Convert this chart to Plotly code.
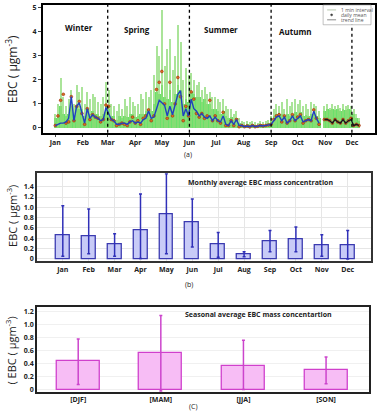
import pandas as pd
import plotly.graph_objects as go

# ---------------- data ----------------
# panel (a): samples every 3 days starting 1 Jan
start_date = "2017-01-01"
step_days = 3
green_peak = [0.6,1.0,2.1,1.3,0.9,1.2,1.6,1.0,1.8,1.5,1.7,1.0,1.5,1.2,1.4,1.3,1.1,1.0,1.3,1.9,
              1.6,1.0,0.9,0.7,1.0,0.8,1.2,0.9,1.3,1.1,0.9,1.0,1.4,1.2,1.5,1.3,1.6,2.2,3.4,3.0,
              4.9,2.6,3.3,3.7,2.4,3.0,4.3,3.6,2.0,2.5,2.2,2.3,2.0,1.8,1.9,1.6,1.7,1.4,1.5,1.3,
              1.3,1.2,1.1,1.2,0.9,0.8,0.8,0.6,0.7,0.4,0.3,0.25,0.3,0.25,0.3,0.25,0.2,0.3,0.25,0.3,
              0.35,0.5,0.8,1.0,0.9,1.1,0.8,1.2,0.9,1.1,1.2,1.0,1.15,0.9,1.0,0.8,1.1,1.0,0.9,0.7,
              None,0.9,1.0,0.85,1.0,0.9,0.95,0.85,1.0,0.9,0.95,0.9,0.8,0.6,0.4]
green_bulk = [0.4,0.5,0.9,0.6,0.5,0.6,0.9,0.5,0.9,0.8,0.8,0.5,0.8,0.6,0.7,0.6,0.6,0.5,0.6,0.9,
              0.8,0.5,0.5,0.35,0.5,0.4,0.5,0.45,0.6,0.6,0.45,0.5,0.6,0.6,0.7,0.8,0.7,1.0,1.5,1.4,
              1.8,1.3,1.2,1.6,1.1,1.4,1.8,1.6,1.0,1.2,1.1,1.5,1.4,1.3,1.3,1.1,1.2,1.0,1.0,0.8,
              0.8,0.7,0.6,0.7,0.5,0.4,0.45,0.35,0.4,0.2,0.15,0.12,0.15,0.12,0.15,0.12,0.1,0.15,0.12,0.15,
              0.2,0.3,0.5,0.6,0.6,0.6,0.5,0.6,0.5,0.6,0.65,0.55,0.65,0.5,0.55,0.5,0.6,0.6,0.5,0.4,
              None,0.7,0.8,0.75,0.8,0.75,0.8,0.7,0.8,0.75,0.8,0.75,0.6,0.4,0.3]
daily_mean = [0.1,0.5,1.15,1.4,0.2,0.25,1.3,0.3,0.9,1.1,0.6,0.15,0.8,0.35,0.55,0.45,0.4,0.25,0.35,0.95,
              0.9,0.35,0.3,0.1,0.15,0.2,0.15,0.1,0.25,0.45,0.2,0.3,0.15,0.4,0.5,0.75,0.3,0.5,1.6,1.9,
              2.35,1.0,0.4,1.9,0.5,1.0,2.1,1.3,0.3,0.9,0.5,1.5,1.2,0.6,0.45,0.6,0.4,0.5,1.15,0.3,
              0.5,0.3,0.2,0.65,0.1,0.1,0.3,0.1,0.35,0.05,0.1,0.05,0.08,0.04,0.1,0.05,0.07,0.1,0.08,0.1,
              0.12,0.15,0.35,0.5,0.55,0.25,0.5,0.2,0.3,0.55,0.3,0.45,0.55,0.2,0.3,0.35,0.3,0.75,0.4,0.15,
              None,0.35,0.35,0.3,0.2,0.35,0.25,0.2,0.35,0.2,0.3,0.4,0.1,0.15,0.1]
trend = [0.1,0.15,0.2,0.2,0.25,0.4,1.3,0.3,0.9,1.05,0.6,0.2,0.8,0.4,0.55,0.45,0.4,0.3,0.35,0.85,
         0.6,0.35,0.3,0.15,0.15,0.2,0.2,0.15,0.25,0.3,0.2,0.25,0.2,0.35,0.4,0.7,0.4,0.45,0.8,1.15,
         1.05,0.95,0.5,0.9,0.55,1.0,1.4,1.55,0.5,0.8,0.5,1.2,0.8,0.7,0.5,0.6,0.45,0.4,0.5,0.3,
         0.45,0.3,0.25,0.5,0.15,0.1,0.3,0.15,0.35,0.1,0.1,0.05,0.08,0.05,0.1,0.05,0.08,0.1,0.08,0.1,
         0.12,0.15,0.3,0.45,0.5,0.3,0.45,0.2,0.3,0.5,0.3,0.4,0.5,0.25,0.3,0.35,0.3,0.7,0.4,0.2,
         None,0.35,0.35,0.3,0.2,0.35,0.25,0.2,0.35,0.2,0.3,0.35,0.1,0.15,0.1]
trend_split = 100  # trend drawn black after this sample
season_bounds = ["2017-03-01", "2017-06-01", "2017-09-01", "2017-12-01"]
season_names = ["Winter", "Spring", "Summer", "Autumn"]
season_label_dates = ["2017-01-28", "2017-04-03", "2017-07-07", "2017-09-28"]
season_label_y = [4.2, 4.1, 4.1, 4.0]
month_ticks = pd.date_range("2017-01-01", periods=12, freq="MS")
month_labels = ["Jan","Feb","Mar","Apr","May","Jun","Jul","Aug","Sep","Oct","Nov","Dec"]
legend_labels = ["1 min interval", "daily mean", "trend line"]

# panel (b): monthly averages
months = month_labels
monthly_mean = [0.46,0.44,0.28,0.55,0.87,0.70,0.28,0.09,0.34,0.38,0.27,0.27]
monthly_hi   = [1.03,0.97,0.49,1.26,1.65,1.16,0.51,0.14,0.55,0.62,0.47,0.55]
monthly_lo   = [0.05,0.10,0.05,0.01,0.10,0.23,0.03,0.04,0.14,0.14,0.05,0.00]

# panel (c): seasonal averages
seasons = ["[DJF]", "[MAM]", "[JJA]", "[SON]"]
seasonal_mean = [0.44,0.56,0.37,0.30]
seasonal_hi   = [0.78,1.14,0.76,0.50]
seasonal_lo   = [0.08,-0.02,0.00,0.09]

# ---------------- figure ----------------
dates = pd.date_range(start_date, periods=len(green_peak), freq=f"{step_days}D")
day_ms = 86400000
FONT = "Open Sans"

fig = go.Figure()

# panel a
fig.add_trace(go.Bar(x=dates, y=green_bulk, width=3.0 * day_ms,
                     marker=dict(color="#3ad83a", line=dict(width=0)), opacity=0.75,
                     showlegend=False, xaxis="x", yaxis="y"))
fig.add_trace(go.Bar(x=dates, y=green_peak, width=1.4 * day_ms,
                     marker=dict(color="#8edc78", line=dict(width=0)), opacity=0.75,
                     showlegend=False, xaxis="x", yaxis="y"))
fig.add_trace(go.Scatter(x=dates, y=daily_mean, mode="markers",
                         marker=dict(color="#d9701c", size=2.8, line=dict(color="#9a2a10", width=0.6)),
                         showlegend=False, xaxis="x", yaxis="y"))
fig.add_trace(go.Scatter(x=dates[:trend_split], y=trend[:trend_split], mode="lines",
                         line=dict(color="#2040c0", width=1.4), connectgaps=False,
                         showlegend=False, xaxis="x", yaxis="y"))
fig.add_trace(go.Scatter(x=dates[trend_split:], y=trend[trend_split:], mode="lines",
                         line=dict(color="#151520", width=1.3), showlegend=False,
                         xaxis="x", yaxis="y"))

# panel b
fig.add_trace(go.Bar(x=months, y=monthly_mean, width=0.54,
                     marker=dict(color="#c8cbf7", line=dict(color="#3a3ab0", width=1.3)),
                     error_y=dict(type="data", symmetric=False,
                                  array=[h - m for h, m in zip(monthly_hi, monthly_mean)],
                                  arrayminus=[m - l for m, l in zip(monthly_mean, monthly_lo)],
                                  color="#3030b8", thickness=1.5, width=1.5),
                     showlegend=False, xaxis="x2", yaxis="y2"))

# panel c
fig.add_trace(go.Bar(x=seasons, y=seasonal_mean, width=0.52,
                     marker=dict(color="#f7bdf5", line=dict(color="#d040cc", width=1.3)),
                     error_y=dict(type="data", symmetric=False,
                                  array=[h - m for h, m in zip(seasonal_hi, seasonal_mean)],
                                  arrayminus=[m - l for m, l in zip(seasonal_mean, seasonal_lo)],
                                  color="#cc44cc", thickness=1.5, width=1.5),
                     showlegend=False, xaxis="x3", yaxis="y3"))

W, H = 377, 414
def px_x(p): return p / W
def px_y(p): return 1 - p / H

tickf = dict(family=FONT, size=7, color="#222", weight="bold")

fig.update_layout(
    width=W, height=H, margin=dict(l=0, r=0, t=0, b=0),
    paper_bgcolor="white", plot_bgcolor="white", barmode="overlay", bargap=0,
    font=dict(family=FONT, color="#222"),
    showlegend=False,
    xaxis=dict(domain=[px_x(43), px_x(376)], anchor="y", type="date",
               range=["2016-12-18", "2017-12-27"],
               tickvals=list(month_ticks), ticktext=month_labels, tickfont=tickf,
               ticks="outside", ticklen=2, showgrid=False, zeroline=False,
               showline=True, linecolor="black", linewidth=2, mirror=True),
    yaxis=dict(domain=[px_y(132), px_y(3)], anchor="x", range=[-0.2, 5.12],
               tickvals=[0, 1, 2, 3, 4, 5], ticktext=["0", "1", "2", "3", "4", "5"],
               tickfont=tickf, ticks="outside", ticklen=3, showgrid=False, zeroline=False,
               showline=True, linecolor="black", linewidth=2, mirror=True),
    xaxis2=dict(domain=[px_x(37), px_x(372)], anchor="y2", type="category",
                range=[-1.0, 11.9], tickfont=tickf, showgrid=True, gridcolor="#e6e6e6",
                gridwidth=1, ticks="", showline=True, linecolor="#333", linewidth=1.5, mirror=True),
    yaxis2=dict(domain=[px_y(262), px_y(173)], anchor="x2", range=[-0.05, 1.66],
                tickvals=[0, 0.2, 0.4, 0.6, 0.8, 1.0, 1.2, 1.4],
                ticktext=["0", "0.2", "0.4", "0.6", "0.8", "1.0", "1.2", "1.4"],
                tickfont=tickf, showgrid=True, gridcolor="#e6e6e6", zeroline=False,
                showline=True, linecolor="#333", linewidth=1.5, mirror=True),
    xaxis3=dict(domain=[px_x(37), px_x(370)], anchor="y3", type="category",
                range=[-0.5, 3.52], tickfont=tickf, showgrid=False, ticks="",
                showline=True, linecolor="#222", linewidth=1.5, mirror=True),
    yaxis3=dict(domain=[px_y(394), px_y(308)], anchor="x3", range=[-0.04, 1.27],
                tickvals=[0, 0.2, 0.4, 0.6, 0.8, 1.0, 1.2],
                ticktext=["0", "0.2", "0.4", "0.6", "0.8", "1.0", "1.2"],
                tickfont=tickf, showgrid=True, gridcolor="#f0f0f0", zeroline=False,
                showline=True, linecolor="#222", linewidth=1.5, mirror=True),
)

# season boundaries
for b in season_bounds:
    fig.add_shape(type="line", xref="x", yref="paper", x0=b, x1=b,
                  y0=px_y(132), y1=px_y(3), line=dict(color="black", width=1.3, dash="dot"))
for name, d, yv in zip(season_names, season_label_dates, season_label_y):
    fig.add_annotation(x=d, y=yv, xref="x", yref="y", text=name, showarrow=False,
                       xanchor="center", yanchor="middle",
                       font=dict(size=8, family=FONT, color="#111", weight="bold"))


def paper_text(x, y, text, font, xanchor="center", angle=0):
    fig.add_annotation(x=px_x(x), y=px_y(y), xref="paper", yref="paper", text=text,
                       showarrow=False, xanchor=xanchor, yanchor="middle",
                       textangle=angle, font=font)


# hand-drawn small legend box (top right of panel a)
fig.add_shape(type="rect", xref="paper", yref="paper", x0=px_x(324), x1=px_x(372),
              y0=px_y(23), y1=px_y(3), line=dict(color="#999", width=0.6), fillcolor="white")
leg_rows = [8, 13, 18]
fig.add_shape(type="line", xref="paper", yref="paper", x0=px_x(328), x1=px_x(337),
              y0=px_y(leg_rows[0]), y1=px_y(leg_rows[0]), line=dict(color="#b8c8b0", width=1))
fig.add_shape(type="circle", xref="paper", yref="paper", x0=px_x(331.5), x1=px_x(333.5),
              y0=px_y(leg_rows[1] + 1), y1=px_y(leg_rows[1] - 1),
              line=dict(color="#333", width=0.5), fillcolor="#333")
fig.add_shape(type="line", xref="paper", yref="paper", x0=px_x(328), x1=px_x(337),
              y0=px_y(leg_rows[2]), y1=px_y(leg_rows[2]), line=dict(color="#888", width=1))
for lab, r in zip(legend_labels, leg_rows):
    paper_text(340, r, lab, dict(size=5, family=FONT, color="#555"), xanchor="left")

ann_font = dict(size=7, family=FONT, color="#222", weight="bold")
lab_font = dict(size=7, family=FONT, color="#222")
paper_text(189, 154, "(a)", lab_font)
paper_text(190, 285, "(b)", lab_font)
paper_text(194, 408, "(C)", lab_font)
paper_text(261, 182, "Monthly average EBC mass concentration", ann_font)
paper_text(259, 316, "Seasonal average EBC mass concentartion", ann_font)

paper_text(12, 68, "EBC ( µgm<sup>-3</sup>)", dict(size=12, family=FONT, color="#222"), angle=-90)
paper_text(12, 216, "EBC ( µgm<sup>-3</sup>)", dict(size=11, family=FONT, color="#222"), angle=-90)
paper_text(11, 352, "( EBC ( µgm<sup>-3</sup>)", dict(size=11, family=FONT, color="#222"), angle=-90)

fig.write_html("out.html", config={"displayModeBar": False},
               post_script="document.body.style.margin='0px';")
